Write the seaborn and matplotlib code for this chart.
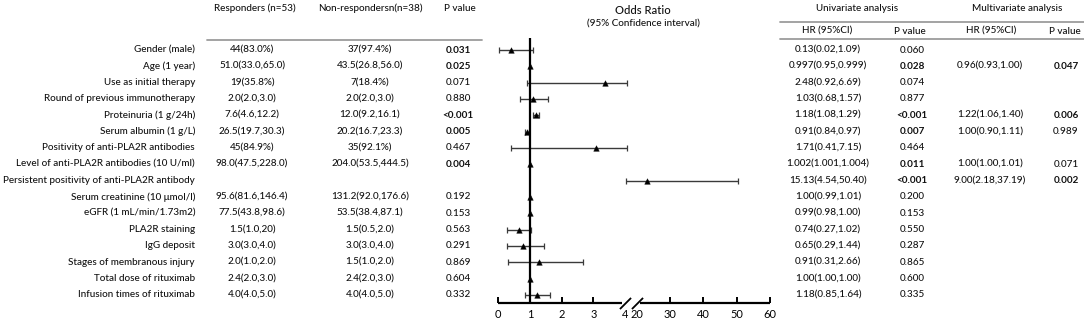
import numpy as np
import pandas as pd
import matplotlib
matplotlib.use("Agg")
import matplotlib.pyplot as plt
import matplotlib.transforms as mtransforms
import seaborn as sns

# ---------------- data ----------------
labels = ["Gender (male)", "Age (1 year)", "Use as initial therapy",
          "Round of previous immunotherapy", "Proteinuria (1 g/24h)",
          "Serum albumin (1 g/L)", "Positivity of anti-PLA2R antibodies",
          "Level of anti-PLA2R antibodies (10 U/ml)",
          "Persistent positivity of anti-PLA2R antibody",
          "Serum creatinine (10 \u03bcmol/l)", "eGFR (1 mL/min/1.73m2)",
          "PLA2R staining", "IgG deposit", "Stages of membranous injury",
          "Total dose of rituximab", "Infusion times of rituximab"]
responders = ["44(83.0%)", "51.0(33.0,65.0)", "19(35.8%)", "2.0(2.0,3.0)",
              "7.6(4.6,12.2)", "26.5(19.7,30.3)", "45(84.9%)",
              "98.0(47.5,228.0)", "", "95.6(81.6,146.4)", "77.5(43.8,98.6)",
              "1.5(1.0,20)", "3.0(3.0,4.0)", "2.0(1.0,2.0)", "2.4(2.0,3.0)",
              "4.0(4.0,5.0)"]
nonresponders = ["37(97.4%)", "43.5(26.8,56.0)", "7(18.4%)", "2.0(2.0,3.0)",
                 "12.0(9.2,16.1)", "20.2(16.7,23.3)", "35(92.1%)",
                 "204.0(53.5,444.5)", "", "131.2(92.0,176.6)",
                 "53.5(38.4,87.1)", "1.5(0.5,2.0)", "3.0(3.0,4.0)",
                 "1.5(1.0,2.0)", "2.4(2.0,3.0)", "4.0(4.0,5.0)"]
p_group = ["0.031", "0.025", "0.071", "0.880", "<0.001", "0.005", "0.467",
           "0.004", "", "0.192", "0.153", "0.563", "0.291", "0.869", "0.604",
           "0.332"]
p_group_bold = [True, True, False, False, True, True, False, True, False,
                False, False, False, False, False, False, False]

# odds ratios as drawn in the forest plot
or_est = [0.40, 1.00, 3.35, 1.08, 1.18, 0.91, 3.08, 1.00, 23.2, 1.00, 0.99,
          0.66, 0.79, 1.29, 1.00, 1.23]
or_low = [0.02, 0.95, 0.92, 0.68, 1.08, 0.84, 0.41, 1.00, 4.54, 0.99, 0.98,
          0.27, 0.27, 0.30, 1.00, 0.85]
or_high = [1.09, 1.00, 6.69, 1.57, 1.29, 0.97, 7.15, 1.00, 50.40, 1.01, 1.00,
           1.02, 1.44, 2.66, 1.00, 1.64]
show_ci = [True, False, True, True, True, True, True, False, True, False,
           False, True, True, True, False, True]

uni_hr = ["0.13(0.02,1.09)", "0.997(0.95,0.999)", "2.48(0.92,6.69)",
          "1.03(0.68,1.57)", "1.18(1.08,1.29)", "0.91(0.84,0.97)",
          "1.71(0.41,7.15)", "1.002(1.001,1.004)", "15.13(4.54,50.40)",
          "1.00(0.99,1.01)", "0.99(0.98,1.00)", "0.74(0.27,1.02)",
          "0.65(0.29,1.44)", "0.91(0.31,2.66)", "1.00(1.00,1.00)",
          "1.18(0.85,1.64)"]
uni_p = ["0.060", "0.028", "0.074", "0.877", "<0.001", "0.007", "0.464",
         "0.011", "<0.001", "0.200", "0.153", "0.550", "0.287", "0.865",
         "0.600", "0.335"]
uni_p_bold = [False, True, False, False, True, True, False, True, True,
              False, False, False, False, False, False, False]
multi_hr = ["", "0.96(0.93,1.00)", "", "", "1.22(1.06,1.40)",
            "1.00(0.90,1.11)", "", "1.00(1.00,1.01)", "9.00(2.18,37.19)",
            "", "", "", "", "", "", ""]
multi_p = ["", "0.047", "", "", "0.006", "0.989", "", "0.071", "0.002",
           "", "", "", "", "", "", ""]
multi_p_bold = [False, True, False, False, True, False, False, False, True,
                False, False, False, False, False, False, False]

x_ticks = [0, 1, 2, 3, 4, 20, 30, 40, 50, 60]

# ---------------- style ----------------
sns.set_theme(style="white")
FONT = ["Lato", "DejaVu Sans"]
plt.rcParams["font.family"] = FONT
FS = 7.1
TXT = "#111111"
GRAY = "#9c9c9c"

W, H = 1084, 322
fig = plt.figure(figsize=(W / 100, H / 100), dpi=100)

bg = fig.add_axes([0, 0, 1, 1])
bg.set_xlim(0, W)
bg.set_ylim(H, 0)
bg.axis("off")

ROW_Y0, ROW_DY = 50.0, 16.33
n = len(labels)
row_y = [ROW_Y0 + i * ROW_DY for i in range(n)]


def t(x, y, s, ha="center", bold=False, size=FS):
    if s:
        bg.text(x, y, s, ha=ha, va="center", fontsize=size, color=TXT,
                fontweight="bold" if bold else "medium")


# left table headers
t(255, 8, "Responders (n=53)")
t(370, 8, "Non-respondersn(n=38)")
t(460, 8, "P value")
bg.plot([207, 482], [40, 40], color=GRAY, lw=1.3)

for i in range(n):
    y = row_y[i]
    t(195, y, labels[i], ha="right")
    t(252, y, responders[i])
    t(370, y, nonresponders[i])
    t(458, y, p_group[i], bold=p_group_bold[i])

# forest title
t(643, 10, "Odds Ratio", size=FS + 1.0)
t(643, 24, "(95% Confidence interval)")

# right table
t(857, 8, "Univariate analysis")
t(1017, 8, "Multivariate analysis")
bg.plot([780, W], [22, 22], color=GRAY, lw=1.3)
bg.plot([780, W], [39, 39], color=GRAY, lw=1.3)
t(827, 31, "HR (95%CI)")
t(910, 31, "P value")
t(991, 31, "HR (95%CI)")
t(1065, 31, "P value")
for i in range(n):
    y = row_y[i]
    t(828, y, uni_hr[i])
    t(912, y, uni_p[i], bold=uni_p_bold[i])
    t(990, y, multi_hr[i])
    t(1066, y, multi_p[i], bold=multi_p_bold[i])

# ---------------- forest plot ----------------
X_LEFT, X_RIGHT = 498.3, 770.0
Y_TOP, Y_BOT = 38.0, 303.0
ax = fig.add_axes([X_LEFT / W, 1 - Y_BOT / H, (X_RIGHT - X_LEFT) / W,
                   (Y_BOT - Y_TOP) / H])
ax.patch.set_alpha(0)

GAP = 0.37
SLOPE = 0.105


def fwd(v):
    v = np.asarray(v, dtype=float)
    return np.where(v <= 4, v,
                    np.where(v >= 20, 4 + GAP + (v - 20) * SLOPE,
                             4 + (v - 4) * GAP / 16))


def inv(p):
    p = np.asarray(p, dtype=float)
    return np.where(p <= 4, p,
                    np.where(p >= 4 + GAP, 20 + (p - 4 - GAP) / SLOPE,
                             4 + (p - 4) * 16 / GAP))


df = pd.DataFrame({"row": np.arange(n), "est": or_est, "low": or_low,
                   "high": or_high, "ci": show_ci})
ci = df[df["ci"]]

ax.hlines(ci["row"], ci["low"], ci["high"], color="#3a3a3a", lw=1.0, zorder=2)
ax.plot(ci["low"], ci["row"], ls="none", marker="|", ms=4.5, mew=0.9,
        color="#3a3a3a", zorder=2)
ax.plot(ci["high"], ci["row"], ls="none", marker="|", ms=4.5, mew=0.9,
        color="#3a3a3a", zorder=2)
ax.axvline(1, color="black", lw=1.6, zorder=3)
sns.scatterplot(data=df, x="est", y="row", marker="^", s=16, color="black",
                edgecolor="black", linewidth=0.3, ax=ax, zorder=4,
                legend=False)

ax.set_xscale("function", functions=(fwd, inv))
ax.set_xlim(0, 60)
ax.set_ylim((Y_BOT - ROW_Y0) / ROW_DY, (Y_TOP - ROW_Y0) / ROW_DY)
ax.set_xlabel("")
ax.set_ylabel("")
ax.set_yticks([])
for s in ["top", "right", "left", "bottom"]:
    ax.spines[s].set_visible(False)

ax.set_xticks(x_ticks)
ax.set_xticklabels([str(v) for v in x_ticks])
ax.xaxis.set_minor_locator(matplotlib.ticker.NullLocator())
ax.tick_params(axis="x", direction="in", length=4.5, width=1.4, pad=4,
               labelsize=FS + 0.8, colors="black", bottom=True)
for tk, v in zip(ax.xaxis.get_major_ticks(), x_ticks):
    if v in (4, 20):
        tk.tick1line.set_visible(False)

trans = mtransforms.blended_transform_factory(ax.transData, ax.transAxes)
ax.plot([0, 3.9], [0, 0], color="black", lw=1.6, transform=trans,
        clip_on=False, solid_capstyle="butt")
ax.plot([21, 60], [0, 0], color="black", lw=1.6, transform=trans,
        clip_on=False, solid_capstyle="butt")
ax.plot([4, 20], [0, 0], ls="none", marker=[(-1, -1), (1, 1)], ms=8,
        mew=1.3, color="black", transform=trans, clip_on=False)

fig.savefig("out.png", dpi=100)
